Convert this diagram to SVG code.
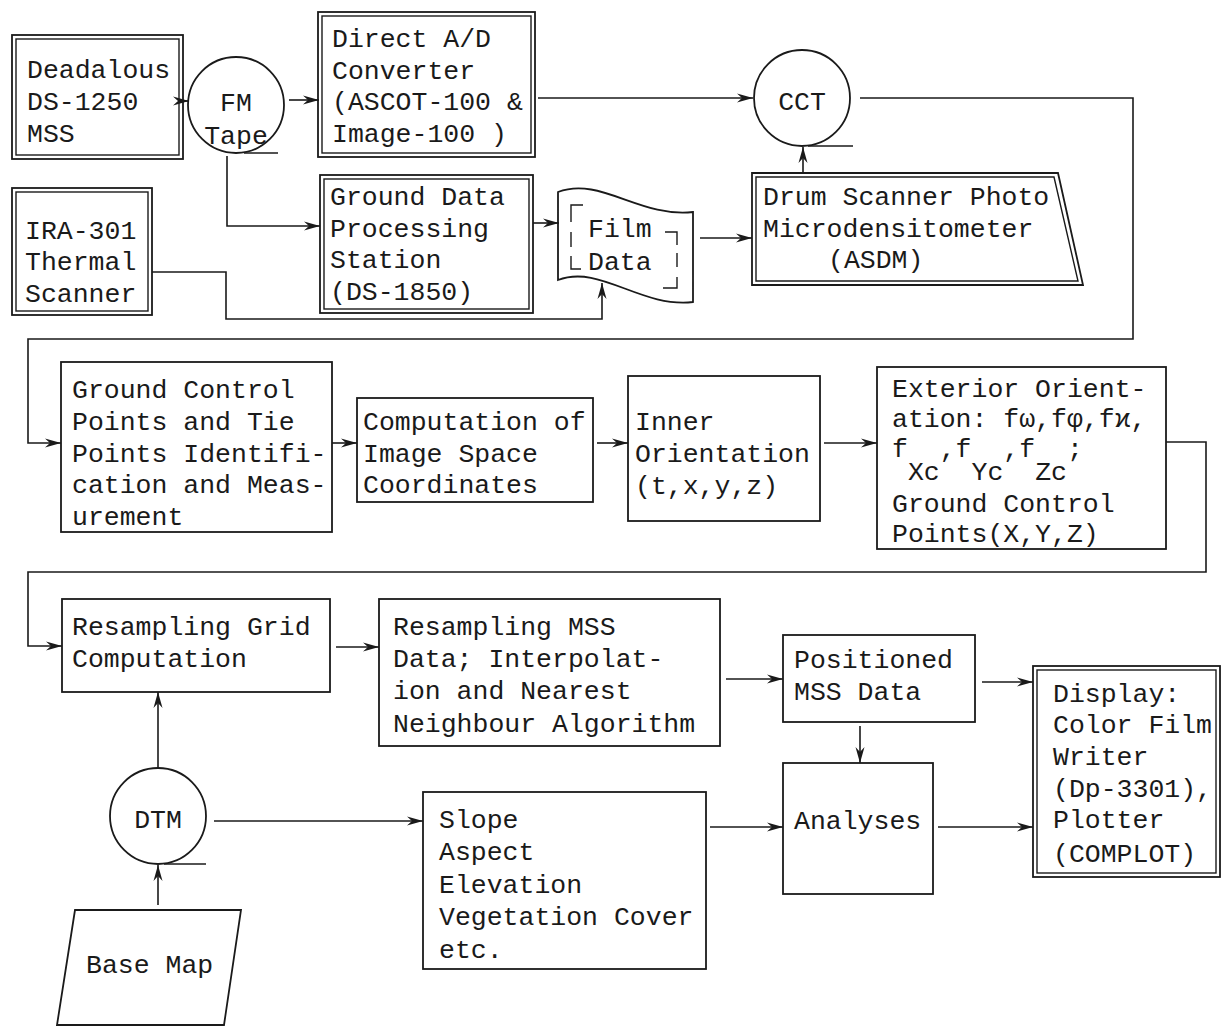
<svg xmlns="http://www.w3.org/2000/svg" width="1225" height="1027" viewBox="0 0 1225 1027">
<defs>
<style>
.b{fill:none;stroke:#1a1a1a;stroke-width:1.8}
.b2{fill:none;stroke:#1a1a1a;stroke-width:1.4}
.t{font-family:"Liberation Mono","DejaVu Sans Mono",monospace;font-size:26.5px;fill:#1a1a1a}
.m{text-anchor:middle}
.c{fill:none;stroke:#1a1a1a;stroke-width:1.6;marker-end:url(#a)}
.l{fill:none;stroke:#1a1a1a;stroke-width:1.6}
</style>
<marker id="a" markerUnits="userSpaceOnUse" markerWidth="18" markerHeight="12" refX="16" refY="5" orient="auto">
<path d="M0,0.5 L16,5 L0,9.5 L5,5 Z" fill="#1a1a1a"/>
</marker>
</defs>
<rect width="1225" height="1027" fill="#ffffff"/>

<g id="connectors">
<path class="c" d="M178,101 L189,101"/>
<path class="c" d="M289,100 L319,100"/>
<path class="c" d="M227,156 L227,226 L320,226"/>
<path class="c" d="M152,272 L226,272 L226,319 L602,319 L602,283"/>
<path class="c" d="M538,98 L753,98"/>
<path class="c" d="M533,223 L559,223"/>
<path class="c" d="M700,238 L752,238"/>
<path class="c" d="M803,173 L803,147"/>
<path class="c" d="M860,98 L1133,98 L1133,339 L28,339 L28,443 L61,443"/>
<path class="c" d="M332,443 L357,443"/>
<path class="c" d="M597,443 L628,443"/>
<path class="c" d="M824,443 L877,443"/>
<path class="c" d="M1166,442 L1206,442 L1206,572 L28,572 L28,646 L62,646"/>
<path class="c" d="M336,647 L379,647"/>
<path class="c" d="M726,679 L783,679"/>
<path class="c" d="M982,682 L1033,682"/>
<path class="c" d="M860,726 L860,763"/>
<path class="c" d="M938,827 L1033,827"/>
<path class="c" d="M710,827 L783,827"/>
<path class="c" d="M214,821 L423,821"/>
<path class="c" d="M158,768 L158,692"/>
<path class="c" d="M158,905 L158,865"/>
</g>

<g id="deadalous">
<rect class="b" x="12" y="35" width="171" height="124"/>
<rect class="b2" x="16" y="39" width="163" height="116"/>
<text class="t" x="27" y="78">Deadalous</text>
<text class="t" x="27" y="110">DS-1250</text>
<text class="t" x="27" y="142">MSS</text>
</g>

<g id="fm-tape">
<circle class="b" cx="236" cy="105" r="48"/>
<path class="l" d="M244,153 L278,153"/>
<text class="t m" x="236" y="111">FM</text>
<text class="t m" x="236" y="144">Tape</text>
</g>

<g id="direct-ad">
<rect class="b" x="318" y="12" width="217" height="145"/>
<rect class="b2" x="322" y="16" width="209" height="137"/>
<text class="t" x="332" y="47">Direct A/D</text>
<text class="t" x="332" y="79">Converter</text>
<text class="t" x="332" y="110">(ASCOT-100 &amp;</text>
<text class="t" x="332" y="142">Image-100 )</text>
</g>

<g id="cct">
<circle class="b" cx="802" cy="98" r="48"/>
<path class="l" d="M808,146 L853,146"/>
<text class="t m" x="802" y="110">CCT</text>
</g>

<g id="ira-301">
<rect class="b" x="12" y="188" width="140" height="127"/>
<rect class="b2" x="16" y="192" width="132" height="119"/>
<text class="t" x="25" y="239">IRA-301</text>
<text class="t" x="25" y="270">Thermal</text>
<text class="t" x="25" y="302">Scanner</text>
</g>

<g id="ground-data">
<rect class="b" x="320" y="175" width="213" height="138"/>
<rect class="b2" x="324" y="179" width="205" height="130"/>
<text class="t" x="330" y="205">Ground Data</text>
<text class="t" x="330" y="237">Processing</text>
<text class="t" x="330" y="268">Station</text>
<text class="t" x="330" y="300">(DS-1850)</text>
</g>

<g id="film-data">
<path class="b" d="M558,192 C600,176 640,218 693,212 L693,302 C640,308 600,264 558,280 Z"/>
<path class="b2" d="M583,205 L571,205 L571,222 M571,232 L571,247 M571,256 L571,269 L581,269 M665,232 L677,232 L677,245 M677,253 L677,267 M677,277 L677,288 L663,288"/>
<text class="t" x="588" y="237">Film</text>
<text class="t" x="588" y="270">Data</text>
</g>

<g id="drum-scanner">
<path class="b" d="M752,173 L1058,173 L1083,285 L752,285 Z"/>
<path class="b2" d="M756,177 L1054,177 L1078,281 L756,281 Z"/>
<text class="t" x="763" y="205">Drum Scanner Photo</text>
<text class="t" x="763" y="237">Microdensitometer</text>
<text class="t" x="828" y="268">(ASDM)</text>
</g>

<g id="ground-control">
<rect class="b" x="61" y="362" width="271" height="170"/>
<text class="t" x="72" y="398">Ground Control</text>
<text class="t" x="72" y="430">Points and Tie</text>
<text class="t" x="72" y="462">Points Identifi-</text>
<text class="t" x="72" y="493">cation and Meas-</text>
<text class="t" x="72" y="525">urement</text>
</g>

<g id="computation">
<rect class="b" x="357" y="398" width="236" height="104"/>
<text class="t" x="363" y="430">Computation of</text>
<text class="t" x="363" y="462">Image Space</text>
<text class="t" x="363" y="493">Coordinates</text>
</g>

<g id="inner-orientation">
<rect class="b" x="628" y="376" width="192" height="145"/>
<text class="t" x="635" y="430">Inner</text>
<text class="t" x="635" y="462">Orientation</text>
<text class="t" x="635" y="494">(t,x,y,z)</text>
</g>

<g id="exterior-orientation">
<rect class="b" x="877" y="367" width="289" height="182"/>
<text class="t" x="892" y="397">Exterior Orient-</text>
<text class="t" x="892" y="427">ation: fω,fφ,fϰ,</text>
<text class="t" x="892" y="457">f<tspan dy="23">Xc</tspan><tspan dy="-23">,f</tspan><tspan dy="23">Yc</tspan><tspan dy="-23">,f</tspan><tspan dy="23">Zc</tspan><tspan dy="-23">;</tspan></text>
<text class="t" x="892" y="512">Ground Control</text>
<text class="t" x="892" y="542">Points(X,Y,Z)</text>
</g>

<g id="resampling-grid">
<rect class="b" x="62" y="599" width="268" height="93"/>
<text class="t" x="72" y="635">Resampling Grid</text>
<text class="t" x="72" y="667">Computation</text>
</g>

<g id="resampling-mss">
<rect class="b" x="379" y="599" width="341" height="147"/>
<text class="t" x="393" y="635">Resampling MSS</text>
<text class="t" x="393" y="667">Data; Interpolat-</text>
<text class="t" x="393" y="699">ion and Nearest</text>
<text class="t" x="393" y="732">Neighbour Algorithm</text>
</g>

<g id="positioned">
<rect class="b" x="783" y="635" width="192" height="87"/>
<text class="t" x="794" y="668">Positioned</text>
<text class="t" x="794" y="700">MSS Data</text>
</g>

<g id="display">
<rect class="b" x="1033" y="666" width="187" height="211"/>
<rect class="b2" x="1037" y="670" width="179" height="203"/>
<text class="t" x="1053" y="702">Display:</text>
<text class="t" x="1053" y="733">Color Film</text>
<text class="t" x="1053" y="765">Writer</text>
<text class="t" x="1053" y="797">(Dp-3301),</text>
<text class="t" x="1053" y="828">Plotter</text>
<text class="t" x="1053" y="862">(COMPLOT)</text>
</g>

<g id="analyses">
<rect class="b" x="783" y="763" width="150" height="131"/>
<text class="t" x="794" y="829">Analyses</text>
</g>

<g id="slope">
<rect class="b" x="423" y="792" width="283" height="177"/>
<text class="t" x="439" y="828">Slope</text>
<text class="t" x="439" y="860">Aspect</text>
<text class="t" x="439" y="893">Elevation</text>
<text class="t" x="439" y="925">Vegetation Cover</text>
<text class="t" x="439" y="958">etc.</text>
</g>

<g id="dtm">
<circle class="b" cx="158" cy="816" r="48"/>
<path class="l" d="M164,864 L206,864"/>
<text class="t m" x="158" y="828">DTM</text>
</g>

<g id="base-map">
<path class="b" d="M75,910 L241,910 L224,1025 L57,1025 Z"/>
<text class="t" x="86" y="973">Base Map</text>
</g>
</svg>
